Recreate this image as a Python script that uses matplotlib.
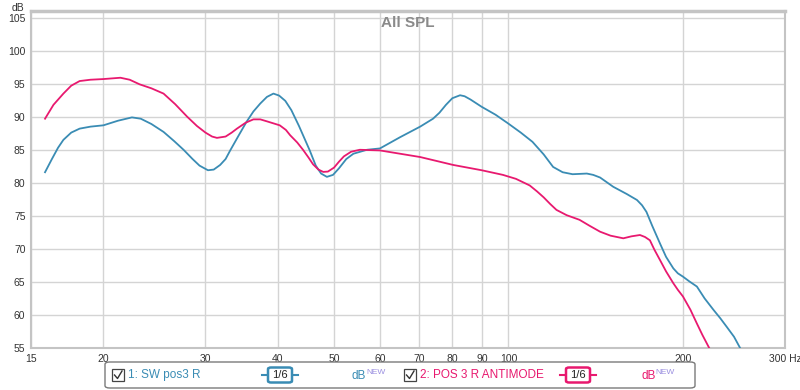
import matplotlib
matplotlib.use("Agg")
import matplotlib.pyplot as plt
from matplotlib.patches import FancyBboxPatch, Rectangle
from matplotlib.ticker import FixedLocator, NullLocator

plt.rcParams["font.family"] = ["Liberation Sans", "DejaVu Sans"]

# -----------------------------------------------------------------------------
# Data
# -----------------------------------------------------------------------------
blue_f = [15.86, 16.3, 16.7, 17.06, 17.6, 18.2, 19, 20, 21.2, 22.4, 23.2, 24.2,
          25.4, 26.5, 27.5, 28.5, 29.3, 30.3, 31, 31.8, 32.5, 33.1, 34.2, 35.3,
          36.3, 37.3, 38.3, 39.3, 40.2, 41.2, 42.2, 43.5, 45.4, 46.5, 47.5, 48.6,
          49.8, 51, 52.5, 54, 57, 60, 65, 70.4, 74.1, 76, 78, 80, 82.5, 84, 86,
          89.9, 95, 99.8, 105, 110, 115, 119.4, 124, 129, 136.5, 140, 143.9,
          151.6, 160, 166.6, 170, 173, 177, 182.6, 187, 192.5, 196, 200, 205,
          211.4, 218, 225.9, 232, 238, 245, 251]
blue_db = [81.6, 83.6, 85.3, 86.5, 87.6, 88.2, 88.5, 88.7, 89.4, 89.9, 89.7, 88.9,
           87.7, 86.3, 85.0, 83.6, 82.6, 81.9, 82.0, 82.7, 83.6, 84.9, 87.1, 89.2,
           90.8, 92.0, 93.0, 93.5, 93.2, 92.4, 91.0, 88.6, 84.9, 82.6, 81.4, 80.9,
           81.2, 82.2, 83.6, 84.4, 85.0, 85.2, 86.9, 88.5, 89.7, 90.6, 91.8, 92.8,
           93.25, 93.1, 92.6, 91.5, 90.3, 89.0, 87.6, 86.2, 84.3, 82.4, 81.6, 81.3,
           81.4, 81.2, 80.8, 79.4, 78.3, 77.4, 76.6, 75.6, 73.5, 70.8, 68.8, 67.05,
           66.3, 65.8, 65.1, 64.3, 62.5, 60.75, 59.5, 58.2, 56.7, 55.0]

pink_f = [15.86, 16.4, 17.06, 17.6, 18.2, 19, 20, 21.4, 22.2, 23.1, 24.2, 25.4,
          26.6, 27.9, 29, 30, 30.8, 31.4, 32.5, 33.3, 34, 35.2, 36.3, 37.3, 38.3,
          40.3, 41.3, 42, 43.2, 44.2, 45.2, 46, 47, 47.9, 48.8, 50, 51, 52, 53.5,
          55.4, 60, 65, 70.4, 80.3, 89.9, 97.8, 103, 108.8, 112, 115, 118, 121,
          126, 132.6, 138, 143.9, 150, 157.8, 163, 168.6, 172, 175.4, 178.5,
          182.6, 187, 192.5, 196, 200, 206, 211.4, 216, 222]
pink_db = [89.7, 91.8, 93.5, 94.7, 95.4, 95.6, 95.7, 95.9, 95.6, 94.9, 94.3, 93.5,
           91.9, 90.0, 88.6, 87.6, 87.0, 86.8, 87.0, 87.6, 88.2, 89.1, 89.6, 89.6,
           89.3, 88.7, 88.0, 87.2, 86.1, 85.0, 83.8, 82.8, 82.0, 81.65, 81.7, 82.3,
           83.2, 84.0, 84.7, 85.0, 84.9, 84.4, 83.9, 82.7, 81.9, 81.2, 80.6, 79.6,
           78.7, 77.8, 76.8, 75.9, 75.1, 74.4, 73.5, 72.6, 72.0, 71.6, 71.9, 72.1,
           71.8, 71.3, 69.9, 68.3, 66.6, 64.8, 63.8, 62.8, 60.8, 58.7, 57.0, 55.0]

x_ticks = [15, 20, 30, 40, 50, 60, 70, 80, 90, 100, 200, 300]
x_labels = ["15", "20", "30", "40", "50", "60", "70", "80", "90", "100", "200", "300 Hz"]
y_ticks = [55, 60, 65, 70, 75, 80, 85, 90, 95, 100, 105]

BLUE = "#3a8cb4"
PINK = "#e8196f"
GRID = "#d4d4d4"
TXT = "#333333"

# -----------------------------------------------------------------------------
# Figure
# -----------------------------------------------------------------------------
fig = plt.figure(figsize=(8, 3.9), dpi=100)
ax = fig.add_axes([31 / 800, 42 / 390, 754 / 800, 337 / 390])

ax.set_xscale("log")
ax.set_xlim(15, 300)
ax.set_ylim(55, 106)

ax.plot(blue_f, blue_db, color=BLUE, lw=1.3, zorder=3, solid_joinstyle="round")
ax.plot(pink_f, pink_db, color=PINK, lw=1.3, zorder=3, solid_joinstyle="round")

ax.xaxis.set_major_locator(FixedLocator(x_ticks))
ax.xaxis.set_minor_locator(NullLocator())
ax.set_xticklabels(x_labels)
ax.set_yticks(y_ticks)
ax.tick_params(axis="both", length=0, labelsize=7.5, colors=TXT)
ax.tick_params(axis="x", pad=4)
ax.tick_params(axis="y", pad=4)
ax.grid(True, color=GRID, lw=1.0)
ax.set_axisbelow(True)

for side in ["left", "bottom", "right"]:
    ax.spines[side].set_color("#c4c4c4")
    ax.spines[side].set_linewidth(1.5)
ax.spines["top"].set_color("#c4c4c4")
ax.spines["top"].set_linewidth(2.5)

ax.text(0.5, 0.985, "All SPL", transform=ax.transAxes, ha="center", va="top",
        fontsize=11, fontweight="bold", color="#8a8a8a")
fig.text(12 / 800, 1 - 8 / 390, "dB", ha="left", va="center", fontsize=7.5, color=TXT)

# -----------------------------------------------------------------------------
# Legend bar below the plot
# -----------------------------------------------------------------------------
def fx(px):
    return px / 800


def fy(py):
    return 1 - py / 390


fig.patches.append(FancyBboxPatch((fx(105), fy(388)), fx(590), 26 / 390,
                                  boxstyle="round,pad=0,rounding_size=0.006",
                                  transform=fig.transFigure, fc="white",
                                  ec="#7a7a7a", lw=1.0, zorder=1))


def legend_item(x0, label, color, box_x, db_x):
    # checkbox with tick
    fig.patches.append(Rectangle((fx(x0), fy(381)), 12 / 800, 12 / 390,
                                 transform=fig.transFigure, fc="white",
                                 ec="#444444", lw=0.9, zorder=2))
    fig.lines.append(plt.Line2D([fx(x0 + 2.5), fx(x0 + 5.5), fx(x0 + 10)],
                                [fy(375), fy(378.5), fy(371)],
                                transform=fig.transFigure, color="#333333",
                                lw=1.0, zorder=3))
    fig.text(fx(x0 + 16), fy(375), label, ha="left", va="center",
             fontsize=8.5, color=color, zorder=3)
    # smoothing badge
    fig.lines.append(plt.Line2D([fx(box_x - 6), fx(box_x + 30)], [fy(375), fy(375)],
                                transform=fig.transFigure, color=color,
                                lw=1.5, zorder=2))
    fig.patches.append(FancyBboxPatch((fx(box_x), fy(382.5)), 24 / 800, 15 / 390,
                                      boxstyle="round,pad=0,rounding_size=0.004",
                                      transform=fig.transFigure, fc="white",
                                      ec=color, lw=1.8, zorder=3))
    fig.text(fx(box_x + 12), fy(375.5), "1/6", ha="center", va="center",
             fontsize=8, color="#222222", zorder=4)
    fig.text(fx(db_x), fy(376), "dB", ha="left", va="center",
             fontsize=8.5, color=color, zorder=3)
    fig.text(fx(db_x + 14), fy(373), "NEW", ha="left", va="center",
             fontsize=6, color="#9a8fe0", zorder=3)


legend_item(112, "1: SW pos3 R", BLUE, 268, 352)
legend_item(404, "2: POS 3 R ANTIMODE", PINK, 566, 641)

fig.savefig("out.png", dpi=100)
